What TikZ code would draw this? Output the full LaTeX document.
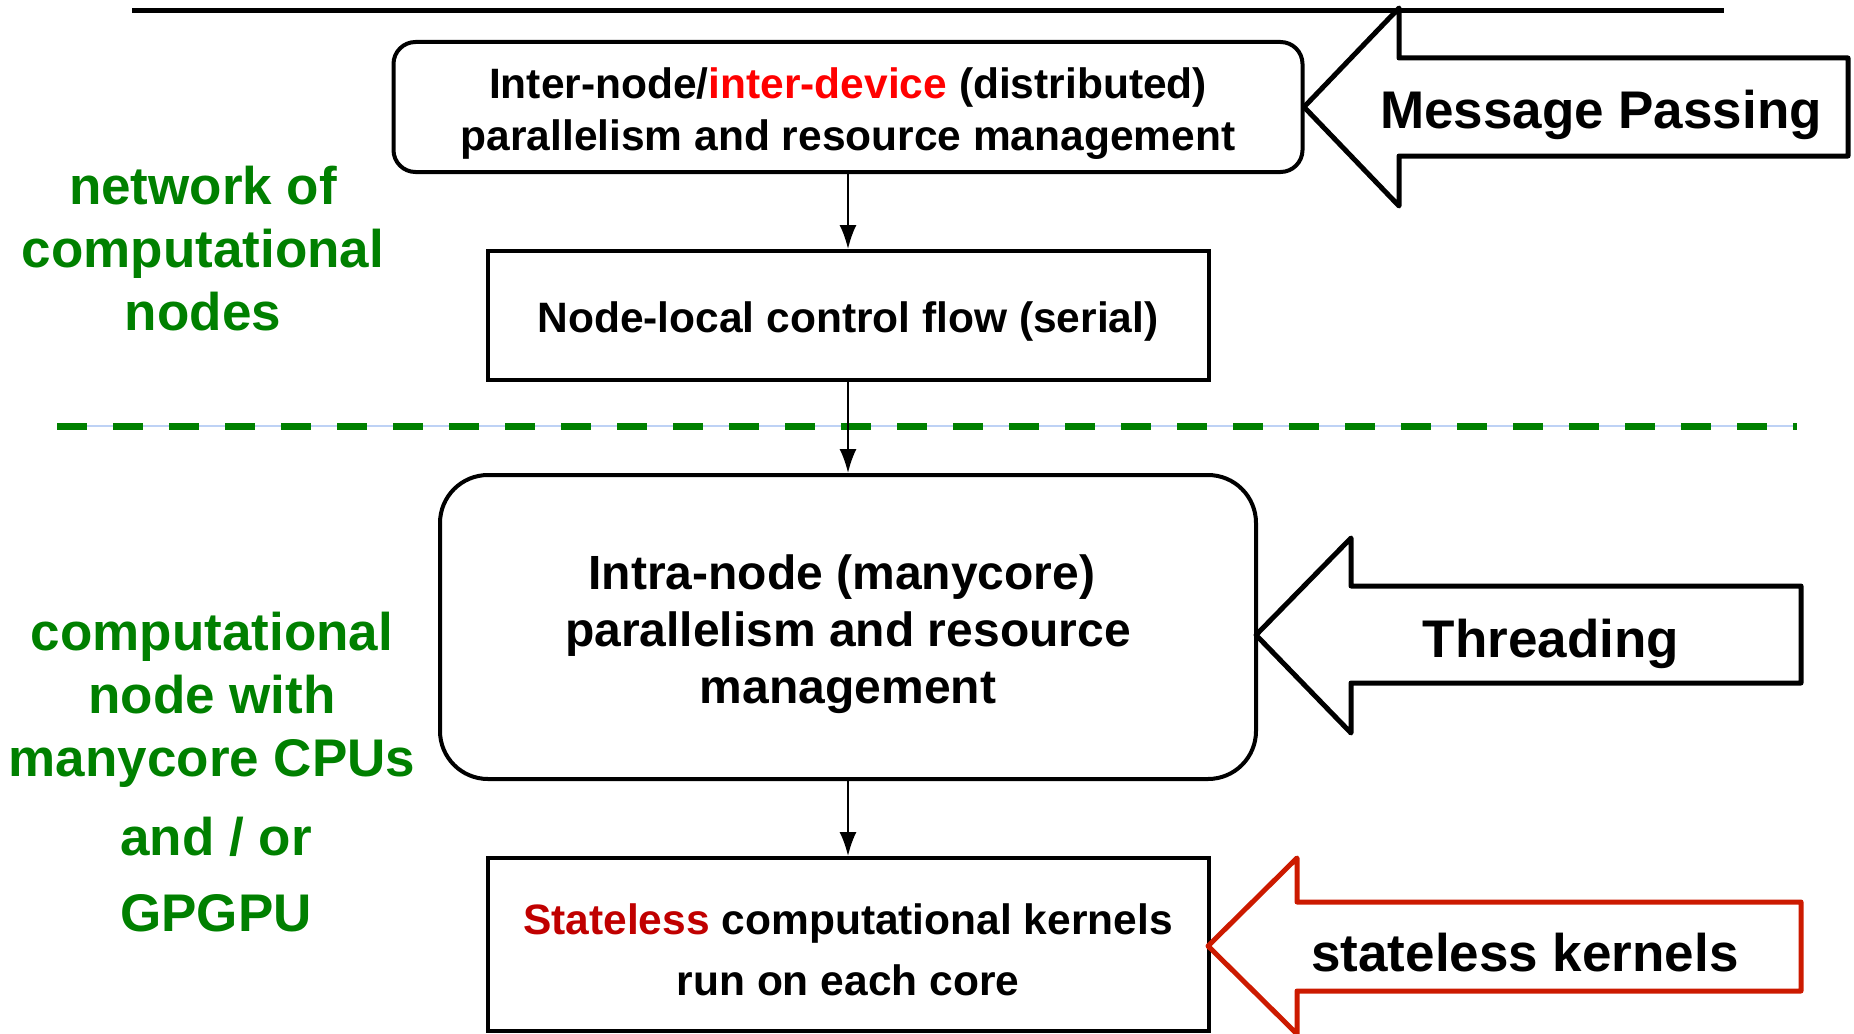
\documentclass[tikz,border=0pt]{standalone}
\usepackage{fontspec}
\setmainfont{Liberation Sans}
\usetikzlibrary{arrows.meta}
\definecolor{netgreen}{RGB}{0,128,0}
\definecolor{devred}{RGB}{255,0,0}
\definecolor{statered}{RGB}{192,0,0}
\definecolor{arrowred}{RGB}{204,26,0}
\definecolor{gridblue}{RGB}{190,210,245}
\newcommand{\textlift}[1]{\rule{0pt}{#1}}
\begin{document}
\begin{tikzpicture}[x=1pt,y=-1pt,
	box/.style={draw,line width=4pt,align=center,inner sep=0pt,font={\fontsize{42.5}{52}\selectfont\bfseries}},
	conn/.style={line width=2pt,-{Latex[length=24pt,width=17pt]}},
	blockarrow/.style={line width=5pt,line join=round},
	armtext/.style={font={\fontsize{53}{60}\selectfont\bfseries}},
	sidetext/.style={text=netgreen,align=center,font={\fontsize{53}{63}\selectfont\bfseries}}]
	\useasboundingbox (0,0) rectangle (1854,1033);
	\draw[line width=5pt] (132,11) -- (1724,11); %felső vonal
	% dobozok
	\node[box,rounded corners=22pt,minimum width=909pt,minimum height=130pt] (inter) at (848,107) {\textlift{45pt}Inter-node/\textcolor{devred}{inter-device} (distributed)\\parallelism and resource management};
	\node[box,minimum width=721pt,minimum height=129pt] (local) at (848,315.5) {\textlift{43pt}Node-local control flow (serial)};
	\node[box,rounded corners=48pt,minimum width=816pt,minimum height=304pt,font={\fontsize{48}{57}\selectfont\bfseries}] (intra) at (848,627) {\textlift{49pt}Intra-node (manycore)\hspace*{12pt}\\parallelism and resource\hspace*{12pt}\\management};
	\node[box,minimum width=721pt,minimum height=173pt,font={\fontsize{42.5}{61}\selectfont\bfseries}] (kern) at (848,944.5) {\textlift{41pt}\textcolor{statered}{Stateless} computational kernels\\run on each core};
	% szaggatott határ
	\draw[gridblue,line width=2pt] (57,426) -- (1797,426);
	\draw[netgreen,line width=7pt,dash pattern=on 30pt off 26pt] (57,426) -- (1797,426);
	% nyilak
	\draw[conn] (inter) -- (local);
	\draw[conn] (local) -- (intra);
	\draw[conn] (intra) -- (kern);
	% Message Passing
	\draw[blockarrow] (1304,107) -- (1399,8) -- (1399,58) -- (1848,58) -- (1848,156) -- (1399,156) -- (1399,206) -- cycle;
	\node[armtext] (mp) at (1601,115) {Message Passing};
	% Threading
	\draw[blockarrow] (1256,635) -- (1351,538) -- (1351,586) -- (1801,586) -- (1801,683) -- (1351,683) -- (1351,733) -- cycle;
	\node[armtext] (thr) at (1551,644) {Threading};
	% stateless
	\draw[blockarrow,arrowred] (1208,946) -- (1297,858) -- (1297,902) -- (1801,902) -- (1801,991) -- (1297,991) -- (1297,1034) -- cycle;
	\node[armtext] (sk) at (1525,953) {stateless kernels};
	% bal oldali feliratok
	\node[sidetext] (net) at (203,249) {network of\\computational\\nodes};
	\node[sidetext] (cpu) at (212,700) {computational\\node with\\manycore CPUs};
	\node[sidetext,font={\fontsize{53}{76}\selectfont\bfseries}] (gpu) at (216,875) {and / or\\GPGPU};
\end{tikzpicture}
\end{document}
